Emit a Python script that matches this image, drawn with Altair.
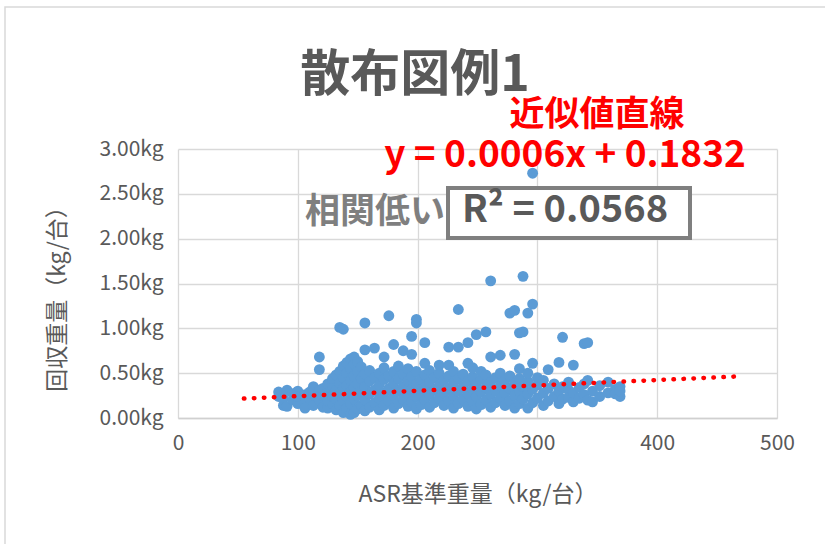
import altair as alt
import pandas as pd

# ASR reference weight (kg per unit) and recovered weights measured at that value
asr_kg = [84, 88, 91, 96, 100, 106, 110, 113, 118, 121, 125, 129, 132, 135, 138,
          141, 144, 147, 150, 153, 156, 160, 164, 168, 172, 176, 180, 184, 188,
          192, 195, 199, 203, 206, 210, 214, 218, 222, 226, 230, 234, 238, 242,
          246, 249, 253, 257, 261, 265, 269, 273, 277, 281, 285, 288, 292, 296,
          300, 305, 309, 314, 318, 321, 326, 330, 335, 339, 342, 346, 352, 359,
          365, 369]
recovered_kg = [
    [0.24, 0.29], [0.14, 0.22], [0.31, 0.13], [0.20, 0.27], [0.16, 0.30, 0.24],
    [0.17, 0.26, 0.11], [0.22, 0.29], [0.14, 0.28, 0.35], [0.20, 0.31, 0.68, 0.54],
    [0.12, 0.25, 0.33], [0.11, 0.19, 0.29, 0.38], [0.16, 0.24, 0.36, 0.44],
    [0.09, 0.21, 0.31, 0.48], [0.14, 0.27, 0.39, 0.52, 1.01],
    [0.06, 0.19, 0.33, 0.45, 0.58, 0.99], [0.11, 0.24, 0.36, 0.50, 0.62],
    [0.04, 0.16, 0.29, 0.42, 0.55, 0.66], [0.06, 0.21, 0.34, 0.47, 0.60, 0.68],
    [0.10, 0.25, 0.38, 0.52, 0.63], [0.14, 0.30, 0.44, 0.57],
    [0.08, 0.20, 0.35, 0.49, 1.06, 0.76], [0.12, 0.27, 0.41, 0.53],
    [0.17, 0.31, 0.45, 0.78], [0.09, 0.22, 0.37, 0.50],
    [0.14, 0.28, 0.43, 0.56, 0.68], [0.19, 0.33, 0.47, 1.14],
    [0.11, 0.25, 0.39, 0.52, 0.82], [0.16, 0.30, 0.44, 0.58],
    [0.21, 0.35, 0.49, 0.75], [0.13, 0.27, 0.41, 0.55],
    [0.18, 0.32, 0.46, 0.91, 0.71], [0.10, 0.24, 0.38, 0.52, 1.10, 1.06],
    [0.15, 0.29, 0.43], [0.20, 0.34, 0.48, 0.84, 0.61], [0.12, 0.26, 0.40, 0.53],
    [0.17, 0.31, 0.45], [0.22, 0.36, 0.50, 0.59], [0.14, 0.28, 0.42],
    [0.19, 0.33, 0.47, 0.79, 0.59], [0.11, 0.25, 0.39, 0.52],
    [0.16, 0.30, 0.44, 1.21, 0.79], [0.21, 0.35, 0.49],
    [0.13, 0.27, 0.41, 0.84, 0.61], [0.18, 0.32, 0.46, 0.56],
    [0.10, 0.24, 0.38, 0.93], [0.15, 0.29, 0.43, 0.52], [0.20, 0.34, 0.48, 0.96],
    [0.12, 0.26, 0.40, 0.68, 1.53], [0.17, 0.31, 0.45], [0.22, 0.36, 0.50, 0.70],
    [0.14, 0.28, 0.42], [0.19, 0.33, 0.47, 1.17], [0.11, 0.25, 0.39, 1.20, 0.71],
    [0.16, 0.30, 0.44, 0.95, 0.55], [0.21, 0.35, 1.58, 0.96],
    [0.11, 0.27, 0.41, 0.50, 1.17], [0.17, 0.32, 2.73, 1.27, 0.61],
    [0.22, 0.37, 0.45], [0.14, 0.28, 0.42], [0.19, 0.33, 0.54], [0.24, 0.38],
    [0.16, 0.30, 0.62], [0.21, 0.35, 0.90], [0.23, 0.31, 0.40], [0.18, 0.28, 0.59],
    [0.22, 0.34], [0.26, 0.38, 0.83], [0.20, 0.42, 0.84], [0.18, 0.30],
    [0.24, 0.36], [0.28, 0.40], [0.32, 0.27], [0.24, 0.35, 0.30],
]

# Linear trendline as reported on the chart, extended on both sides
trend_slope = 0.0006
trend_intercept = 0.1832
trend_x = [55, 465]

x_ticks = [0, 100, 200, 300, 400, 500]
y_ticks = [0.0, 0.5, 1.0, 1.5, 2.0, 2.5, 3.0]

points = pd.DataFrame(
    [(x, y) for x, ys in zip(asr_kg, recovered_kg) for y in ys],
    columns=["asr", "recovered"],
)
trend = pd.DataFrame({
    "asr": trend_x,
    "recovered": [trend_slope * x + trend_intercept for x in trend_x],
})
single = pd.DataFrame({"k": [0]})  # one row for annotation marks

FONT = "Noto Sans CJK JP"
GREY = "#595959"
W, H = 599, 269
LEFT, TOP = 178, 149

x_enc = alt.X(
    "asr:Q",
    scale=alt.Scale(domain=[0, 500], nice=False),
    axis=alt.Axis(
        values=x_ticks, title="ASR基準重量（kg/台）", grid=True,
        gridColor="#d9d9d9", gridWidth=1.3, domainColor="#d0d0d0",
        domainWidth=1.5, ticks=False, labelFlush=False, labelFont=FONT,
        labelFontSize=21, labelColor=GREY, labelPadding=14, titleFont=FONT,
        titleFontSize=23, titleFontWeight="normal", titleColor=GREY,
        titleY=76, titleBaseline="middle",
    ),
)
y_enc = alt.Y(
    "recovered:Q",
    scale=alt.Scale(domain=[0, 3], nice=False),
    axis=alt.Axis(
        values=y_ticks, title="回収重量（kg/台）", grid=True,
        gridColor="#d9d9d9", gridWidth=1.3, domain=False, ticks=False,
        labelFlush=False, labelExpr="format(datum.value, '.2f') + 'kg'",
        labelFont=FONT, labelFontSize=21, labelColor=GREY, labelPadding=15,
        titleFont=FONT, titleFontSize=23, titleFontWeight="normal",
        titleColor=GREY, titleAngle=270, titleX=-121, titleY=144,
        titleAlign="center", titleBaseline="middle",
    ),
)

frame = alt.Chart(single).mark_rect(
    fill=None, stroke="#d9d9d9", strokeWidth=1.5
).encode(
    x=alt.value(5 - LEFT), x2=alt.value(W + 200),
    y=alt.value(7 - TOP), y2=alt.value(H + 200),
)

scatter = alt.Chart(points).mark_circle(
    size=118, color="#5B9BD5", opacity=1
).encode(x=x_enc, y=y_enc)

trendline = alt.Chart(trend).mark_line(
    color="#FF0000", strokeWidth=4.5, strokeDash=[0.5, 9.5], strokeCap="round"
).encode(x="asr:Q", y="recovered:Q")


def label(text, x, y, size, color, weight="bold"):
    return alt.Chart(single).mark_text(
        text=text, font=FONT, fontSize=size, fontWeight=weight, color=color,
        align="center", baseline="middle",
    ).encode(x=alt.value(x), y=alt.value(y))


r2_box = alt.Chart(single).mark_rect(
    fill="white", stroke="#7f7f7f", strokeWidth=4
).encode(
    x=alt.value(448 - LEFT), x2=alt.value(690 - LEFT),
    y=alt.value(188 - TOP), y2=alt.value(238 - TOP),
)

chart = alt.layer(
    frame,
    scatter,
    trendline,
    r2_box,
    label("散布図例1", 415 - LEFT, 76 - TOP, 50, GREY),
    label("近似値直線", 597 - LEFT, 115 - TOP, 35, "#FF0000"),
    label("y = 0.0006x + 0.1832", 565 - LEFT, 156 - TOP, 37, "#FF0000"),
    label("相関低い", 375 - LEFT, 212 - TOP, 35, "#7f7f7f"),
    label("R² = 0.0568", 565 - LEFT, 211 - TOP, 38, GREY),
).properties(
    width=W, height=H,
    autosize=alt.AutoSizeParams(type="none"),
    padding={"left": LEFT, "top": TOP, "right": 825 - LEFT - W, "bottom": 544 - TOP - H},
    background="white",
).configure_view(stroke=None)

chart.save("out.html", embed_options={"renderer": "svg", "actions": False})
